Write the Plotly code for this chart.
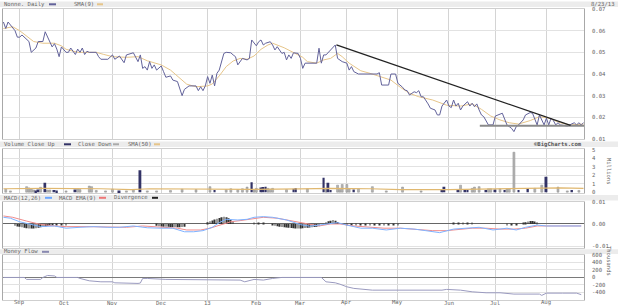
import pandas as pd
import plotly.graph_objects as go

W, H = 618, 306

# ---------------- calendar (trading days) ----------------
holidays = ["2012-09-03", "2012-10-29", "2012-10-30", "2012-11-22", "2012-12-25",
            "2013-01-01", "2013-01-21", "2013-02-18", "2013-03-29", "2013-05-27", "2013-07-04"]
days = pd.bdate_range("2012-08-23", "2013-08-23")
days = days[~days.isin(pd.to_datetime(holidays))]
month_labels = ["Sep", "Oct", "Nov", "Dec", "13", "Feb", "Mar", "Apr", "May", "Jun", "Jul", "Aug"]
month_idx = [i for i in range(1, len(days)) if days[i].month != days[i - 1].month]

# ---------------- price (day index, close) ----------------
price_idx = [0, 1, 2, 4, 5, 6, 7, 8, 9, 11, 12, 14, 15, 17, 18, 20, 21, 22, 23, 24, 25, 27, 28, 29, 31, 32, 33, 34,
             35, 36, 37, 40, 41, 42, 45, 47, 48, 50, 52, 53, 55, 56, 58, 59, 60, 61, 62, 63, 64, 65, 66, 68, 69, 70,
             72, 73, 75, 76, 77, 78, 80, 83, 84, 85, 86, 87, 88, 89, 90, 91, 92, 93, 95, 96, 98, 99, 100, 101, 102,
             103, 105, 106, 107, 108, 109, 110, 111, 112, 113, 115, 116, 117, 118, 120, 121, 122, 123, 124, 125, 127,
             128, 129, 130, 135, 136, 137, 138, 139, 141, 142, 143, 144, 146, 148, 149, 150, 151, 153, 161, 162, 163,
             166, 167, 169, 170, 172, 173, 174, 175, 177, 178, 179, 180, 181, 182, 183, 184, 186, 187, 188, 189, 191,
             192, 193, 194, 195, 196, 197, 198, 200, 201, 202, 203, 204, 205, 206, 207, 209, 211, 212, 215, 216, 217,
             218, 219, 220, 221, 222, 224, 225, 227, 228, 229, 230, 231, 232, 233, 234, 235, 236, 237, 238, 239, 240,
             243, 244, 245, 246, 247, 248, 249, 250]
price_val = [0.064, 0.061, 0.064, 0.061, 0.060, 0.057, 0.057, 0.058, 0.057, 0.055, 0.050, 0.052, 0.055, 0.055, 0.0595,
             0.055, 0.0525, 0.054, 0.0515, 0.048, 0.0525, 0.050, 0.050, 0.052, 0.049, 0.0515, 0.050, 0.052,
             0.049, 0.0505, 0.050, 0.050, 0.048, 0.0468, 0.0468, 0.0488, 0.0468, 0.0483, 0.0452, 0.0488, 0.0495,
             0.0498, 0.0457, 0.0488, 0.0426, 0.0434, 0.0418, 0.0457, 0.0426, 0.0442, 0.0418, 0.0437, 0.0411, 0.0385,
             0.0391, 0.0372, 0.0365, 0.0326, 0.030, 0.0329, 0.0345, 0.0345, 0.0323, 0.0341, 0.0323, 0.0345, 0.0388,
             0.0357, 0.0395, 0.0345, 0.0403, 0.0418, 0.0495, 0.050, 0.0498, 0.0488, 0.048, 0.0442, 0.0457,
             0.0472, 0.0465, 0.0472, 0.0557, 0.0542, 0.053, 0.0549, 0.0557, 0.0534, 0.0542, 0.0549, 0.0534, 0.0511,
             0.0526, 0.0495, 0.050, 0.0465, 0.0488, 0.0472, 0.0498, 0.0495,
             0.0472, 0.0426, 0.045, 0.045, 0.0519, 0.045, 0.0488, 0.0488, 0.0511, 0.0519, 0.0534, 0.0472, 0.0457,
             0.045, 0.0418, 0.0434, 0.0411, 0.040, 0.040, 0.0406, 0.0349,
             0.0349, 0.040, 0.040, 0.0357, 0.0339, 0.0326, 0.0323, 0.0303, 0.0318, 0.0314, 0.0323, 0.0295, 0.0295,
             0.028, 0.0262, 0.0242, 0.0234, 0.0211, 0.0211, 0.0252, 0.028,
             0.0252, 0.0245, 0.028, 0.0252, 0.0265, 0.0234, 0.0252, 0.0272, 0.0252, 0.0265, 0.0249, 0.0262, 0.0234,
             0.0211, 0.0203, 0.0165, 0.0165, 0.0206, 0.0219, 0.0196, 0.0165,
             0.0157, 0.0149, 0.0134, 0.0157, 0.0165, 0.0188, 0.0211, 0.0222, 0.0219, 0.0188, 0.0165, 0.0211, 0.0191,
             0.0165, 0.0196, 0.0165, 0.0196, 0.0185, 0.0165, 0.0175, 0.0165,
             0.016, 0.0165, 0.0169, 0.0175, 0.0165, 0.0175, 0.0165, 0.0175]

sma9_idx = [0, 4, 7, 10, 13, 17, 22, 25, 27, 32, 40, 43, 47, 53, 58, 62, 68, 72, 76, 79, 83, 88, 90, 93, 96, 99, 102,
            105, 108, 111, 114, 116, 121, 125, 129, 131, 135, 138, 141, 144, 146, 149, 154, 158, 162, 167, 171, 175,
            179, 185, 191, 197, 202, 206, 210, 214, 218, 222, 227, 231, 235, 240, 244, 250]
sma9_val = [0.061, 0.0618, 0.060, 0.0575, 0.055, 0.0542, 0.0542, 0.053, 0.0514, 0.050, 0.050, 0.0491, 0.048, 0.0477,
            0.048, 0.0461, 0.0442, 0.0418, 0.038, 0.0353, 0.0341, 0.0345, 0.0354, 0.0391, 0.0434, 0.046, 0.0472,
            0.0468, 0.0483, 0.0514, 0.0534, 0.0542, 0.0521, 0.0498, 0.0477, 0.0457, 0.045, 0.0465, 0.0472, 0.0495,
            0.048, 0.045, 0.0415, 0.0403, 0.0388, 0.0372, 0.0339, 0.0311, 0.0295, 0.028, 0.0256, 0.0252, 0.0262,
            0.0237, 0.0206, 0.0188, 0.0175, 0.0169, 0.0185, 0.0203, 0.0196, 0.0175, 0.0165, 0.0169]

trend_idx = [143.5, 244.4]
trend_val = [0.0534, 0.0163]
support_idx = [205.3, 252]
support_val = [0.0161, 0.0161]

# ---------------- volume (millions) ----------------
vol_up_idx = [14, 15, 18, 22, 23, 31, 50, 59, 91, 107, 111, 112, 113, 125, 126, 138, 140, 141, 151, 189, 190, 196,
              199, 200, 208, 212, 216, 222, 226, 234, 245]
vol_up = [0.2, 0.3, 1.1, 0.25, 0.2, 0.3, 0.2, 2.58, 0.25, 1.17, 0.55, 0.6, 0.65, 0.4, 0.5, 1.69, 1.1, 0.25, 0.3, 0.3,
          0.65, 0.3, 0.3, 0.25, 0.25, 0.3, 0.25, 0.25, 0.5, 1.83, 0.25]
vol_dn_idx = [1, 3, 10, 11, 12, 13, 16, 19, 20, 27, 32, 33, 37, 38, 40, 44, 47, 53, 56, 62, 66, 72, 77, 83, 89, 96,
              98, 101, 103, 105, 108, 109, 114, 115, 116, 122, 131, 139, 144, 145, 146, 148, 149, 153, 159, 165,
              172, 180, 197, 202, 203, 205, 209, 210, 214, 217, 218, 220, 229, 232, 239, 243, 248]
vol_dn = [0.35, 0.15, 0.65, 0.5, 0.4, 0.25, 0.58, 0.25, 0.25, 0.15, 0.4, 0.3, 0.72, 0.65, 0.2, 0.15, 0.35, 0.15, 0.3,
          0.15, 0.15, 0.2, 0.35, 0.3, 0.65, 0.3, 0.4, 0.3, 0.4, 0.6, 0.3, 0.45, 0.45, 0.35, 0.45, 0.3, 0.4, 0.45,
          0.83, 0.3, 0.91, 0.91, 0.4, 0.4, 0.65, 0.15, 0.6, 0.15, 0.83, 0.45, 0.6, 0.65, 0.4, 0.4, 0.4, 0.4, 0.4,
          4.72, 0.45, 0.83, 0.6, 0.15, 0.2]
vol_sma_idx = [0, 17, 42, 55, 63, 85, 93, 106, 128, 141, 158, 171, 192, 206, 222, 240, 250]
vol_sma = [0.4, 0.45, 0.4, 0.3, 0.4, 0.38, 0.3, 0.33, 0.38, 0.45, 0.4, 0.3, 0.3, 0.35, 0.48, 0.5, 0.45]

# ---------------- MACD ----------------
macd_idx = [0, 3, 7, 12, 16, 22, 27, 33, 39, 45, 50, 56, 62, 68, 73, 78, 82, 86, 90, 93, 96, 101, 105, 108, 112, 116,
            122, 128, 132, 136, 141, 144, 148, 154, 159, 165, 171, 177, 182, 188, 194, 200, 205, 211, 217, 221, 225,
            230, 234, 240, 245, 249]
macd_val = [0.003, 0.0026, 0.001, -0.0004, -0.0012, -0.0009, -0.0019, -0.0015, -0.0012, -0.0015, -0.0015, -0.0009,
            -0.0017, -0.0019, -0.0019, -0.0035, -0.0035, -0.003, -0.0015, 0.0006, 0.0021, 0.0018, 0.0021, 0.003,
            0.0033, 0.003, 0.0018, -0.0003, -0.001, -0.0005, 0.0003, 0.0006, -0.0005, -0.0019, -0.0019, -0.0027,
            -0.0019, -0.0023, -0.003, -0.0039, -0.0023, -0.0019, -0.0015, -0.0027, -0.0019, -0.0027, -0.0015,
            -0.0005, -0.0009, -0.0009, -0.0009, -0.0009]
signal_idx = [0, 4, 10, 16, 22, 27, 36, 45, 53, 60, 68, 75, 79, 85, 89, 93, 98, 102, 106, 112, 118, 124, 129, 134,
              136, 141, 145, 151, 157, 164, 171, 178, 185, 191, 197, 202, 208, 214, 220, 225, 230, 234, 243, 249]
signal_val = [0.0036, 0.003, 0.0013, -0.0002, -0.0009, -0.0012, -0.0012, -0.0012, -0.0015, -0.0009, -0.0015,
              -0.0019, -0.0027, -0.0027, -0.0019, -0.0005, 0.001, 0.0015, 0.0021, 0.003, 0.0026, 0.0015, 0.0003,
              -0.0005, -0.0009, 0.0, 0.0, -0.0009, -0.0015, -0.0019, -0.0019, -0.0023, -0.003, -0.003, -0.0023,
              -0.0019, -0.0019, -0.0023, -0.0023, -0.0019, -0.0009, -0.0009, -0.0009, -0.0009]
div_idx = [5, 6, 7, 8, 9, 10, 11, 12, 13, 14, 15, 16, 17, 18, 19, 20, 21, 23, 25, 27, 66, 67, 68, 69, 70, 71, 72, 73,
           74, 75, 76, 77, 78, 88, 89, 90, 91, 92, 93, 94, 95, 96, 97, 98, 99, 108, 110, 112, 116, 117, 118, 119, 120,
           121, 122, 123, 124, 125, 126, 127, 128, 129, 130, 131, 132, 133, 134, 135, 136, 139, 140, 141, 142, 143,
           144, 148, 150, 152, 154, 156, 158, 160, 162, 164, 166, 168, 170, 194, 196, 198, 200, 202, 217, 219, 221,
           224, 225, 226, 227, 228, 229, 230]
div_val = [-0.0008, -0.0011, -0.0013, -0.0015, -0.0017, -0.0019, -0.002, -0.002, -0.002, -0.0019, -0.0017, -0.0015,
           -0.0013, -0.0011, -0.0009, -0.0007, -0.0006, -0.0005, -0.0005, -0.0004,
           -0.0008, -0.001, -0.0011, -0.0012, -0.0013, -0.0013, -0.0014, -0.0014, -0.0014, -0.0015, -0.0015, -0.0014,
           -0.0012, 0.0008, 0.0012, 0.0016, 0.002, 0.0024, 0.0027, 0.003, 0.0032, 0.003, 0.0026, 0.002, 0.0013,
           0.0006, 0.0006, 0.0005, -0.0006, -0.0008, -0.001, -0.0012, -0.0014, -0.0015, -0.0016, -0.0017, -0.0018,
           -0.0019, -0.002, -0.002, -0.002, -0.0019, -0.0018, -0.0017, -0.0016, -0.0015, -0.0014, -0.0012, -0.001,
           0.0008, 0.0012, 0.0015, 0.0018, 0.0015, 0.0009, -0.0004, -0.0005, -0.0005, -0.0005, -0.0005, -0.0005,
           -0.0004, -0.0004, -0.0004, -0.0004, -0.0004, -0.0004, 0.0005, 0.0006, 0.0006, 0.0005, 0.0004, -0.0005,
           -0.0006, -0.0005, 0.0005, 0.0008, 0.0011, 0.0013, 0.0013, 0.0011, 0.0008]

# ---------------- Money flow (thousands) ----------------
mf_idx = [0, 9, 10, 16, 17, 19, 22, 23, 32, 33, 37, 42, 47, 48, 58, 59, 60, 62, 70, 76, 77, 102, 104, 106, 108, 112,
          115, 116, 120, 137, 139, 143, 145, 148, 151, 156, 159, 189, 191, 197, 202, 208, 214, 220, 231, 232, 234,
          241, 247, 249]
mf_val = [0, 0, -53, -53, 0, 53, 40, 0, 0, -27, -90, -117, -117, -144, -160, -150, -27, -27, -53, -53, -71, -71,
          -117, -90, -53, -71, -53, -27, 0, 0, -117, -144, -180, -250, -293, -320, -340, -340, -320, -340, -384,
          -410, -410, -445, -445, -480, -420, -420, -420, -460]

price_ticks = [0.01, 0.02, 0.03, 0.04, 0.05, 0.06, 0.07]
price_text = ["0.01", "0.02", "0.03", "0.04", "0.05", "0.06", "0.07"]
vol_ticks = [0, 1, 2, 3, 4, 5]
vol_text = ["0", "1", "2", "3", "4", "5"]
macd_ticks = [-0.01, 0.0, 0.01]
macd_text = ["-0.01", "0.00", "0.01"]
mf_ticks = [-600, -400, -200, 0, 200, 400, 600]
mf_text = ["-600", "-400", "-200", "0", "200", "400", "600"]

# ---------------- styling ----------------
FONT = "DejaVu Sans Mono"
FS = 5.6
TXT = "#666666"
NAVY = "#62629a"
TAN = "#e6c58a"
GRID = "#e2e2e2"
VGRID = "#d4d4d4"


def px(x):
    return x / W


def py(y):
    return 1 - y / H


fig = go.Figure()

# price panel
fig.add_trace(go.Scatter(x=sma9_idx, y=sma9_val, mode="lines", line=dict(color=TAN, width=1), xaxis="x", yaxis="y"))
fig.add_trace(go.Scatter(x=price_idx, y=price_val, mode="lines", line=dict(color=NAVY, width=1), xaxis="x", yaxis="y"))
fig.add_trace(go.Scatter(x=support_idx, y=support_val, mode="lines", line=dict(color="#8a8a8a", width=2), xaxis="x", yaxis="y"))
fig.add_trace(go.Scatter(x=trend_idx, y=trend_val, mode="lines", line=dict(color="#222222", width=1.3), xaxis="x", yaxis="y"))

# volume panel
fig.add_trace(go.Bar(x=vol_dn_idx, y=vol_dn, width=0.85, marker=dict(color="#b4b4b4", line=dict(color="#8c8c8c", width=0.5)),
                     xaxis="x2", yaxis="y2"))
fig.add_trace(go.Bar(x=vol_up_idx, y=vol_up, width=0.85, marker=dict(color="#333366", line=dict(width=0)),
                     xaxis="x2", yaxis="y2"))
fig.add_trace(go.Scatter(x=vol_sma_idx, y=vol_sma, mode="lines", line=dict(color="#e0b870", width=1.2), xaxis="x2", yaxis="y2"))

# MACD panel
fig.add_trace(go.Bar(x=div_idx, y=div_val, width=0.3, marker=dict(color="#333333", line=dict(width=0)), xaxis="x3", yaxis="y3"))
fig.add_trace(go.Scatter(x=signal_idx, y=signal_val, mode="lines", line=dict(color="#f08c8c", width=1), xaxis="x3", yaxis="y3"))
fig.add_trace(go.Scatter(x=macd_idx, y=macd_val, mode="lines", line=dict(color="#7fb2ff", width=1), xaxis="x3", yaxis="y3"))

# money flow
fig.add_trace(go.Scatter(x=mf_idx, y=mf_val, mode="lines", line=dict(color="#9a9abf", width=1), xaxis="x4", yaxis="y4"))

xr = [-0.4, 250.2]
xdom = [px(2.5), px(584)]
common_x = dict(range=xr, domain=xdom, tickvals=month_idx, showticklabels=False, ticks="", showgrid=True,
                gridcolor=VGRID, gridwidth=1, zeroline=False, showline=True, mirror=True, linecolor="#cfcfcf", linewidth=1)
common_y = dict(side="right", ticks="", showgrid=True, gridcolor=GRID, gridwidth=1, showline=True, mirror=True,
                linecolor="#a8a8a8", linewidth=1, showticklabels=False, fixedrange=True)

layout = dict(
    width=W, height=H, margin=dict(l=0, r=0, t=0, b=0), paper_bgcolor="white", plot_bgcolor="white",
    showlegend=False, barmode="overlay",
    xaxis=dict(**common_x, anchor="y"),
    xaxis2=dict(**common_x, anchor="y2", matches="x"),
    xaxis3=dict(**common_x, anchor="y3", matches="x"),
    xaxis4=dict(**common_x, anchor="y4", matches="x"),
    yaxis=dict(**common_y, anchor="x", domain=[py(139), py(9)], range=[0.01, 0.07], tickvals=price_ticks, zeroline=False),
    yaxis2=dict(**common_y, anchor="x2", domain=[py(193), py(149)], range=[-0.1, 5.1], tickvals=vol_ticks, zeroline=False),
    yaxis3=dict(**common_y, anchor="x3", domain=[py(248), py(201.5)], range=[-0.0108, 0.0101], tickvals=macd_ticks,
                zeroline=True, zerolinecolor="#666666", zerolinewidth=1),
    yaxis4=dict(**common_y, anchor="x4", domain=[py(299.5), py(255)], range=[-590, 600], tickvals=mf_ticks,
                zeroline=True, zerolinecolor="#7a7a7a", zerolinewidth=1),
)
fig.update_layout(**layout)

shapes = []
annos = []


def band(y0, y1):
    shapes.append(dict(type="rect", xref="paper", yref="paper", x0=0, x1=1, y0=py(y1), y1=py(y0),
                       fillcolor="#ececec", line=dict(width=0), layer="below"))


def label(x, y, text, color=TXT, size=FS, bold=False, anchor="left"):
    t = f"<b>{text}</b>" if bold else text
    annos.append(dict(xref="paper", yref="paper", x=px(x), y=py(y), text=t, showarrow=False, xanchor=anchor,
                      yanchor="middle", font=dict(family=FONT, size=size, color=color)))


def swatch(x0, x1, y, color):
    shapes.append(dict(type="line", xref="paper", yref="paper", x0=px(x0), x1=px(x1), y0=py(y), y1=py(y),
                       line=dict(color=color, width=2)))


def ylabels(yref, vals, texts):
    for v, t in zip(vals, texts):
        annos.append(dict(xref="paper", yref=yref, x=px(590), y=v, text=t, showarrow=False, xanchor="left",
                          yanchor="middle", font=dict(family=FONT, size=FS, color=TXT)))


band(1.5, 7)
band(141.5, 147)
band(195, 200.5)
band(249.3, 254)

label(2, 4.3, "Nonne. Daily")
swatch(49, 56, 4.3, NAVY)
label(72, 4.3, "SMA(9)")
swatch(97, 103, 4.3, TAN)
label(617, 4.3, "8/23/13", anchor="right")

label(2, 144.3, "Volume Close Up")
swatch(64, 71, 144.3, "#333366")
label(76, 144.3, "Close Down")
swatch(113, 119, 144.3, "#aaaaaa")
label(126, 144.3, "SMA(50)")
swatch(154, 160, 144.3, TAN)
label(584, 144.3, "©BigCharts.com", color="#555555", bold=True, anchor="right")

label(2, 197.8, "MACD(12,26)")
swatch(45, 52, 197.8, "#6aa6ff")
label(57, 197.8, "MACD EMA(9)")
swatch(99, 106, 197.8, "#ee7777")
label(112, 197.8, "Divergence")
swatch(152, 158, 197.8, "#222222")

label(2, 251.8, "Money Flow")
swatch(42, 49, 251.8, "#8888b0")

ylabels("y", price_ticks, price_text)
ylabels("y2", vol_ticks, vol_text)
ylabels("y3", macd_ticks, macd_text)
ylabels("y4", mf_ticks, mf_text)

annos.append(dict(xref="paper", yref="paper", x=px(614), y=py(171), text="Millions", showarrow=False, textangle=90,
                  font=dict(family=FONT, size=5.5, color=TXT)))
annos.append(dict(xref="paper", yref="paper", x=px(614), y=py(278), text="Thousands", showarrow=False, textangle=90,
                  font=dict(family=FONT, size=5.5, color=TXT)))

for i, lab in zip(month_idx, month_labels):
    annos.append(dict(xref="x4", yref="paper", x=i, y=py(302.5), text=lab, showarrow=False, xanchor="center",
                      yanchor="middle", font=dict(family=FONT, size=FS, color=TXT)))

fig.update_layout(shapes=shapes, annotations=annos)
fig.write_html("out.html")
